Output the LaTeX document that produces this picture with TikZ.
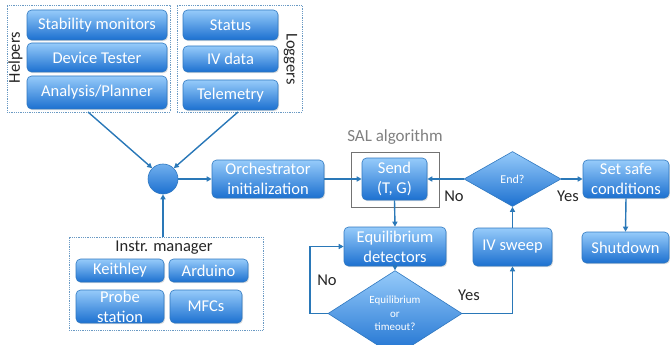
\documentclass[tikz,border=0pt]{standalone}
\usepackage{fontspec}
\setmainfont{Carlito}
\usetikzlibrary{shapes.geometric,arrows.meta,shadows}
\definecolor{bord}{HTML}{2F78C0}
\definecolor{topc}{HTML}{96CBFA}
\definecolor{botc}{HTML}{1C70D0}
\definecolor{lnc}{HTML}{2A78B8}
\definecolor{dashc}{HTML}{6A9AC4}
\tikzset{
  bbox/.style={rectangle, rounded corners=4.5pt, draw=bord, line width=0.6pt,
    top color=topc, bottom color=botc, text=white, align=center, inner sep=0pt,
    font=\fontsize{16.5}{20}\selectfont,
    drop shadow={shadow xshift=1pt, shadow yshift=-1.2pt, opacity=0.25}},
  dbox/.style={diamond, draw=bord, line width=0.6pt, top color=topc, bottom color=botc,
    text=white, align=center, inner sep=0pt},
  grp/.style={draw=dashc, densely dotted, line width=0.8pt},
  conn/.style={draw=lnc, line width=1.4pt, -{Triangle[length=5pt,width=5pt]}},
  lbl/.style={font=\fontsize{16.5}{20}\selectfont, text=black!85},
}
\begin{document}
\begin{tikzpicture}[x=1pt,y=-1pt]
\useasboundingbox (0,0) rectangle (670,345);
% Helpers group
\node[grp, minimum width=163, minimum height=107, inner sep=0] (helpers) at (88.5,58.5) {};
\node[lbl, inner sep=0] (helperslbl) at (15.5,57.5) {\rotatebox{90}{Helpers}};
\node[bbox, minimum width=140, minimum height=30] (stab) at (97,25) {Stability monitors};
\node[bbox, minimum width=140, minimum height=29] (dev) at (97,57.5) {Device Tester};
\node[bbox, minimum width=140, minimum height=33] (ana) at (97,92.5) {Analysis/Planner};
% Loggers group
\node[grp, minimum width=125, minimum height=107, inner sep=0] (loggers) at (239.5,58.5) {};
\node[lbl, inner sep=0] (loggerslbl) at (290.5,59) {\rotatebox{-90}{Loggers}};
\node[bbox, minimum width=95, minimum height=30] (status) at (230.5,25) {Status};
\node[bbox, minimum width=95, minimum height=26] (ivdata) at (230.5,59) {IV data};
\node[bbox, minimum width=95, minimum height=30] (tele) at (230.5,95) {Telemetry};
% hub
\node[circle, draw=bord, line width=0.6pt, top color=topc!70!botc, bottom color=botc, minimum size=30, inner sep=0] (hub) at (163,179) {};
\draw[conn] (88,112) -- (hub.north west);
\draw[conn] (238,112) -- (hub.north east);
% Instr manager
\node[grp, minimum width=194, minimum height=93, inner sep=0] (instr) at (166,283.5) {};
\node[lbl] (instrlbl) at (164,248) {Instr. manager};
\node[bbox, minimum width=88, minimum height=23] (keith) at (120,270.5) {Keithley};
\node[bbox, minimum width=79, minimum height=23] (ard) at (208.5,270.5) {Arduino};
\node[bbox, minimum width=88, minimum height=33] (probe) at (120,306.5) {Probe\\station};
\node[bbox, minimum width=72, minimum height=33] (mfc) at (206,306.5) {MFCs};
\draw[conn] (163,237) -- (hub.south);
% Orchestrator
\node[bbox, minimum width=112, minimum height=38] (orch) at (268,179) {Orchestrator\\initialization};
\draw[conn] (hub.east) -- (orch.west);
% SAL
\node[text=black!50, font=\fontsize{17}{20}\selectfont] (sallbl) at (395,137) {SAL algorithm};
\draw[draw=black!55, line width=0.8pt] (351,152) rectangle (439,207);
\node[bbox, minimum width=65, minimum height=42] (send) at (394.5,179) {Send\\(T, G)};
\draw[conn] (orch.east) -- (send.west);
\node[bbox, minimum width=102, minimum height=39] (eq) at (395,246.5) {Equilibrium\\detectors};
\draw[conn] (send.south) -- (eq.north);
\node[dbox, minimum width=134, minimum height=59, font=\fontsize{11}{13.5}\selectfont] (eqd) at (395,313.5) {Equilibrium\\or\\timeout?};
\draw[conn] (eq.south) -- (eqd.north);
\coordinate (loopl) at (310,313.5);
\draw[conn] (eqd.west) -- (loopl) |- (eq.west);
\node[lbl] (nolbl1) at (327,280) {No};
\node[bbox, minimum width=79, minimum height=38] (iv) at (512.5,247) {IV sweep};
\draw[conn] (eqd.east) -| (iv.south);
\node[lbl] (yeslbl1) at (469,295) {Yes};
\node[dbox, minimum width=97, minimum height=55, font=\fontsize{12}{14}\selectfont] (endd) at (512.5,179) {End?};
\draw[conn] (iv.north) -- (endd.south);
\draw[conn] (endd.west) -- (send.east);
\node[lbl] (nolbl2) at (454,196) {No};
\node[bbox, minimum width=86, minimum height=38] (safe) at (626,179) {Set safe\\conditions};
\draw[conn] (endd.east) -- (safe.west);
\node[lbl] (yeslbl2) at (568,196) {Yes};
\node[bbox, minimum width=87, minimum height=31] (shut) at (625.5,247.5) {Shutdown};
\draw[conn] (safe.south) -- (shut.north);
\end{tikzpicture}
\end{document}
